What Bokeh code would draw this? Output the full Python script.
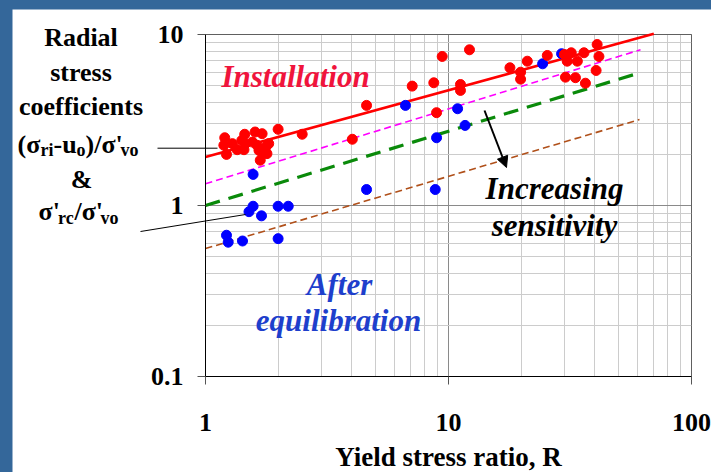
from bokeh.plotting import figure
from bokeh.models import (Label, Arrow, NormalHead, FixedTicker, PrintfTickFormatter,
                          BoxAnnotation)
from bokeh.layouts import column
from bokeh.embed import file_html
from bokeh.resources import INLINE

# ---------------- data ----------------
x_ticks = [1, 10, 100]
y_ticks = [0.1, 1, 10]
x_tick_labels = {1: "1", 10: "10", 100: "100"}
y_tick_labels = {0.1: "0.1", 1: "1", 10: "10"}
x_title = "Yield stress ratio, R"

# installation (red) points: yield stress ratio R, radial stress coefficient
inst_R = [1.20, 1.19, 1.22, 1.29, 1.35, 1.41, 1.45, 1.46, 1.44, 1.60, 1.71, 1.56,
          1.63, 1.66, 1.77, 1.79, 1.68, 1.74, 1.82, 1.99, 2.50, 4.02, 4.60, 7.09,
          8.70, 9.42, 12.2, 8.93, 11.2, 11.2, 17.9, 21.1, 19.8, 19.8, 25.5, 30.0,
          32.0, 30.8, 33.9, 36.1, 40.9, 41.6, 30.3, 33.3, 36.6, 40.5]
inst_K = [2.49, 2.25, 1.99, 2.30, 2.12, 2.40, 2.61, 2.30, 2.12, 2.69, 2.63, 2.35,
          2.25, 2.10, 2.20, 2.01, 1.84, 2.05, 2.30, 2.79, 2.61, 2.44, 3.85, 4.99,
          5.22, 7.44, 8.14, 3.49, 5.10, 4.71, 6.39, 6.98, 6.02, 5.48, 7.54, 7.64,
          7.82, 6.98, 6.98, 7.82, 8.74, 7.44, 5.63, 5.59, 5.19, 6.16]

# after equilibration (blue) points
eq_R = [1.57, 1.57, 1.51, 1.70, 1.99, 2.19, 1.22, 1.24, 1.42, 1.99, 4.60, 6.65,
        8.93, 8.82, 10.9, 11.7, 24.4, 29.2]
eq_K = [1.52, 0.99, 0.92, 0.87, 0.99, 0.99, 0.67, 0.61, 0.62, 0.64, 1.24, 3.85,
        2.49, 1.24, 3.68, 2.94, 6.74, 7.72]

# trend lines (end points)
red_line_R = [1.0, 70.0]
red_line_K = [1.92, 10.1]
magenta_line_R = [1.0, 61.7]
magenta_line_K = [1.34, 8.15]
green_line_R = [1.0, 57.7]
green_line_K = [1.0, 5.82]
brown_line_R = [1.0, 61.1]
brown_line_K = [0.56, 3.18]

# ---------------- layout helpers (page pixel -> data, for annotations) -----
# plotted box (x 1..100, y 0.1..10) sits at these page pixels
FL, FR, FT, FB = 205, 691, 34, 376
XDEC = (FR - FL) / 2.0
YDEC = (FB - FT) / 2.0
PAD_L, PAD_T = 12, 9          # blue slide border
W, H = 711 - PAD_L, 472 - PAD_T


def dx(px):
    return 10 ** ((px - FL) / XDEC)


def dy(py):
    return 10 ** ((FT + YDEC - py) / YDEC)


SERIF = "Liberation Serif"

# the frame spans the whole canvas; axes are pinned to the plotted box
p = figure(width=W, height=H, x_axis_type="log", y_axis_type="log",
           x_range=(dx(PAD_L), dx(711)), y_range=(dy(472), dy(PAD_T)),
           output_backend="svg", toolbar_location=None, title=None,
           min_border_left=0, min_border_right=0, min_border_top=0, min_border_bottom=0)

p.background_fill_color = "white"
p.border_fill_color = "white"
p.outline_line_color = None

minor_x = [m * 10 ** k for k in (0, 1) for m in range(2, 10)]
minor_y = [m * 10 ** k for k in (-1, 0) for m in range(2, 10)]
p.xaxis.ticker = FixedTicker(ticks=x_ticks, minor_ticks=minor_x)
p.yaxis.ticker = FixedTicker(ticks=y_ticks, minor_ticks=minor_y)
p.xaxis.formatter = PrintfTickFormatter(format="%g")
p.yaxis.formatter = PrintfTickFormatter(format="%g")
p.xaxis.major_label_overrides = x_tick_labels
p.yaxis.major_label_overrides = y_tick_labels
p.xaxis.bounds = (x_ticks[0], x_ticks[-1])
p.yaxis.bounds = (y_ticks[0], y_ticks[-1])
p.yaxis.fixed_location = x_ticks[0]
p.xaxis.fixed_location = y_ticks[0]

for ax in (p.xaxis[0], p.yaxis[0]):
    ax.major_label_text_font = SERIF
    ax.major_label_text_font_style = "bold"
    ax.major_label_text_font_size = "26px"
    ax.major_label_text_color = "black"
    ax.major_tick_in = 0
    ax.major_tick_out = 8
    ax.major_tick_line_color = "#555555"
    ax.minor_tick_line_color = None
    ax.axis_line_color = "black"

p.yaxis.major_label_standoff = 14
p.xaxis.major_label_standoff = 29

for g in (p.xgrid[0], p.ygrid[0]):
    g.grid_line_color = "#8a8a8a"
    g.grid_line_width = 1
    g.minor_grid_line_color = "#cccccc"
    g.minor_grid_line_width = 1
p.ygrid[0].cross_bounds = (x_ticks[0], x_ticks[-1])
p.xgrid[0].cross_bounds = (y_ticks[0], y_ticks[-1])

# plot box outline
p.add_layout(BoxAnnotation(left=x_ticks[0], right=x_ticks[-1], bottom=y_ticks[0],
                           top=y_ticks[-1], fill_alpha=0, line_color="black",
                           line_width=1, level="underlay"))

# trend lines
p.line(brown_line_R, brown_line_K, line_color="#B0501A", line_width=1.6, line_dash="7 4")
p.line(green_line_R, green_line_K, line_color="#0A8A0A", line_width=3.2, line_dash="15 9")
p.line(magenta_line_R, magenta_line_K, line_color="#FF00FF", line_width=1.6, line_dash="7 4")
p.line(red_line_R, red_line_K, line_color="#FF0000", line_width=2.6)

# points
p.scatter(eq_R, eq_K, size=10, fill_color="#0000FF", line_color="#0000FF")
p.scatter(inst_R, inst_K, size=10, fill_color="#FF0000", line_color="#FF0000")

# connector lines from the left labels
p.add_layout(Arrow(end=None, x_start=dx(157), y_start=dy(147.7), x_end=dx(217), y_end=dy(147.7),
                   line_color="black", line_width=1))
p.add_layout(Arrow(end=None, x_start=dx(140), y_start=dy(231), x_end=dx(245), y_end=dy(214),
                   line_color="black", line_width=1))

# increasing sensitivity arrow
p.add_layout(Arrow(end=NormalHead(size=11, fill_color="black", line_color="black"),
                   x_start=dx(484), y_start=dy(110), x_end=dx(506), y_end=dy(167),
                   line_color="black", line_width=2))


def label(px, baseline_py, text, size_px, color="black", style="bold", align="left"):
    # the renderer puts the glyph baseline about 0.34 em below the anchor
    py = baseline_py - 0.34 * size_px
    p.add_layout(Label(x=dx(px), y=dy(py), text=text, text_font=SERIF,
                       text_font_style=style, text_font_size=f"{size_px}px",
                       text_color=color, text_align=align, text_baseline="alphabetic"))


# x axis title, centred under the plotted box
label((FL + FR) / 2, 465.5, x_title, 27, align="center")

# in-plot texts
label(221, 86.7, "Installation", 31, "#F0143C", "bold italic")
label(554, 198.3, "Increasing", 31, "black", "bold italic", "center")
label(554, 236, "sensitivity", 31, "black", "bold italic", "center")
label(339, 295, "After", 31, "#1E3FCC", "bold italic", "center")
label(338, 331, "equilibration", 31, "#1E3FCC", "bold italic", "center")

# y-axis title block on the left
label(80.5, 46, "Radial", 26, align="center")
label(80.5, 81, "stress", 26, align="center")
label(80.5, 115, "coefficients", 26, align="center")
label(17, 153, "(σ", 26)
label(40, 156, "ri", 18)
label(53, 153, "-u", 26)
label(76, 156, "o", 18)
label(85, 153, ")/σ'", 26)
label(120, 156, "vo", 18)
label(81, 188, "&", 26, align="center")
label(38, 220, "σ'", 26)
label(57.5, 224, "rc", 18)
label(74, 220, "/σ'", 26)
label(100, 224, "vo", 18)

layout = column(p, styles={"background-color": "#34679A", "padding-top": f"{PAD_T}px",
                           "padding-left": f"{PAD_L}px"})

open("out.html", "w").write(file_html(layout, INLINE))
